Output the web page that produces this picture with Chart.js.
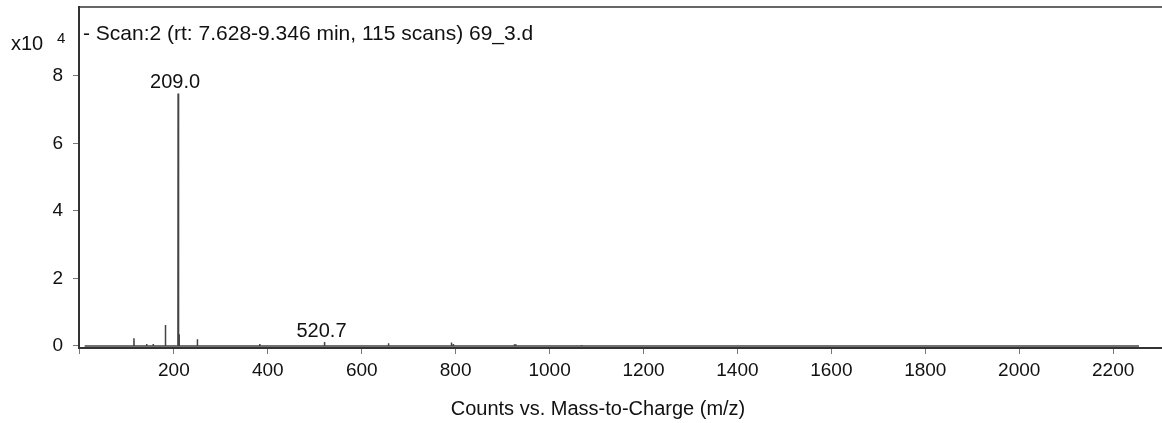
<!DOCTYPE html>
<html>
<head>
<meta charset="utf-8">
<script src="https://cdn.jsdelivr.net/npm/chart.js@4.4.1/dist/chart.umd.min.js"></script>
<style>
html,body{margin:0;padding:0;background:#fff;}
#wrap{width:1162px;height:423px;position:relative;}
</style>
</head>
<body>
<div id="wrap"><canvas id="c" width="1162" height="423"></canvas></div>
<script>
// ---- data (intensity in units of x10^4 counts) ----
const peakMz =        [115, 142, 156, 182, 209.0, 210, 211, 250, 383, 520.7, 657, 791, 795, 925, 928, 1068];
const peakIntensity = [0.23, 0.06, 0.06, 0.62, 7.48, 1.07, 0.35, 0.20, 0.06, 0.12, 0.08, 0.10, 0.06, 0.05, 0.05, 0.03];
const rangeStart = 10;
const rangeEnd = 2255;
const baselineLevel = 0.0;
const labelledPeaks = [209.0, 520.7];
const xTickValues = [0, 200, 400, 600, 800, 1000, 1200, 1400, 1600, 1800, 2000, 2200];
const yTickValues = [0, 2, 4, 6, 8];
const headerText = "- Scan:2 (rt: 7.628-9.346 min, 115 scans) 69_3.d";
const xTitle = "Counts vs. Mass-to-Charge (m/z)";

// build stick spectrum from arrays
const pts = [{x: rangeStart, y: baselineLevel}];
peakMz.forEach((m, i) => {
  pts.push({x: m - 0.4, y: baselineLevel});
  pts.push({x: m, y: peakIntensity[i]});
  pts.push({x: m + 0.4, y: baselineLevel});
});
pts.push({x: rangeEnd, y: baselineLevel});

const FONT = "'Liberation Sans', Arial, Helvetica, sans-serif";

const decor = {
  id: 'decor',
  afterDraw(chart) {
    const {ctx, chartArea, scales} = chart;
    ctx.save();
    // top frame line
    ctx.strokeStyle = '#333';
    ctx.lineWidth = 1.5;
    ctx.beginPath();
    ctx.moveTo(chartArea.left, chartArea.top);
    ctx.lineTo(chartArea.right, chartArea.top);
    ctx.stroke();
    ctx.fillStyle = '#111';
    // x10^4
    ctx.textBaseline = 'alphabetic';
    ctx.textAlign = 'left';
    ctx.font = '20px ' + FONT;
    ctx.fillText('x10', 11, 50);
    ctx.font = '15px ' + FONT;
    ctx.fillText('4', 57, 43);
    // header
    ctx.font = '21px ' + FONT;
    ctx.fillText(headerText, 83, 40);
    // x axis title
    ctx.textAlign = 'center';
    ctx.font = '20px ' + FONT;
    ctx.fillText(xTitle, 598, 415);
    // peak labels
    labelledPeaks.forEach(m => {
      const i = peakMz.indexOf(m);
      const px = scales.x.getPixelForValue(m);
      const py = scales.y.getPixelForValue(peakIntensity[i]);
      ctx.fillText(m.toFixed(1), px - 3, py - 5);
    });
    ctx.restore();
  }
};

new Chart(document.getElementById('c'), {
  type: 'line',
  data: {
    datasets: [{
      data: pts,
      borderColor: '#444',
      borderWidth: 1.5,
      pointRadius: 0,
      tension: 0,
      fill: false
    }]
  },
  options: {
    responsive: false,
    animation: false,
    events: [],
    layout: {padding: {top: 7, right: 0, left: 0, bottom: 0}},
    plugins: {legend: {display: false}, tooltip: {enabled: false}},
    scales: {
      x: {
        type: 'linear',
        min: -2,
        max: 2304,
        afterBuildTicks: s => { s.ticks = xTickValues.map(v => ({value: v})); },
        afterFit: s => { s.height = 75; s.paddingLeft = 0; s.paddingRight = 0; },
        ticks: {
          color: '#111',
          font: {family: FONT, size: 19},
          padding: 5,
          maxRotation: 0,
          autoSkip: false,
          callback: v => v === 0 ? '' : String(v)
        },
        grid: {drawOnChartArea: false, drawTicks: true, tickLength: 6, color: '#777', lineWidth: 1},
        border: {display: true, color: '#333', width: 2}
      },
      y: {
        type: 'linear',
        min: -0.06,
        max: 10.04,
        afterBuildTicks: s => { s.ticks = yTickValues.map(v => ({value: v})); },
        afterFit: s => { s.width = 79; s.paddingTop = 0; s.paddingBottom = 0; },
        ticks: {
          color: '#111',
          font: {family: FONT, size: 19},
          padding: 10,
          callback: v => String(v)
        },
        grid: {drawOnChartArea: false, drawTicks: true, tickLength: 6, color: '#777', lineWidth: 1},
        border: {display: true, color: '#333', width: 2}
      }
    }
  },
  plugins: [decor]
});
</script>
</body>
</html>
